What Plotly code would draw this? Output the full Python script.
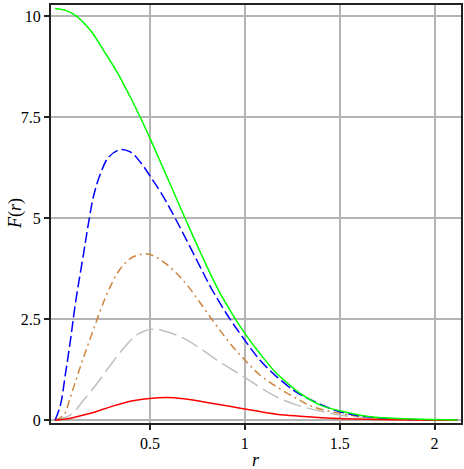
import plotly.graph_objects as go

# ---- data ----
r_green = [0, 0.05, 0.107, 0.186, 0.256, 0.326, 0.396, 0.449, 0.501, 0.685, 0.764, 0.861, 0.948, 1.0, 1.079, 1.167, 1.254, 1.29, 1.395, 1.50, 1.64, 1.78, 1.99, 2.12]
F_green = [10.19, 10.15, 10.02, 9.65, 9.15, 8.62, 8.0, 7.5, 6.97, 5.0, 4.17, 3.22, 2.52, 2.15, 1.65, 1.16, 0.80, 0.67, 0.38, 0.235, 0.10, 0.05, 0.02, 0.005]

r_blue = [0, 0.028, 0.055, 0.081, 0.107, 0.151, 0.177, 0.203, 0.239, 0.282, 0.344, 0.396, 0.449, 0.501, 0.571, 0.633, 0.747, 0.826, 0.922, 1.0, 1.079, 1.167, 1.254, 1.29, 1.50, 1.7, 1.9, 2.12]
F_blue = [0, 0.37, 1.16, 1.98, 2.89, 4.15, 4.9, 5.55, 6.10, 6.51, 6.70, 6.64, 6.39, 6.04, 5.53, 5.0, 3.96, 3.24, 2.50, 1.98, 1.49, 1.08, 0.75, 0.64, 0.21, 0.06, 0.015, 0.003]

r_orange = [0, 0.046, 0.081, 0.116, 0.151, 0.195, 0.239, 0.282, 0.344, 0.396, 0.456, 0.50, 0.571, 0.641, 0.703, 0.826, 0.922, 1.0, 1.079, 1.167, 1.272, 1.36, 1.50, 1.7, 1.9, 2.12]
F_orange = [0, 0.13, 0.58, 1.08, 1.57, 2.15, 2.72, 3.22, 3.75, 4.0, 4.11, 4.10, 3.92, 3.63, 3.30, 2.50, 1.90, 1.49, 1.12, 0.83, 0.54, 0.33, 0.17, 0.05, 0.012, 0.002]

r_gray = [0, 0.081, 0.151, 0.221, 0.291, 0.361, 0.431, 0.510, 0.589, 0.676, 0.764, 0.852, 1.0, 1.149, 1.272, 1.50, 1.7, 1.9, 2.12]
F_gray = [0, 0.13, 0.50, 0.91, 1.36, 1.78, 2.11, 2.25, 2.19, 2.03, 1.78, 1.49, 1.06, 0.62, 0.38, 0.13, 0.04, 0.01, 0.002]

r_red = [0, 0.081, 0.186, 0.291, 0.396, 0.50, 0.589, 0.676, 0.764, 1.0, 1.167, 1.29, 1.5, 1.8, 2.12]
F_red = [0, 0.05, 0.17, 0.33, 0.47, 0.54, 0.56, 0.53, 0.47, 0.28, 0.15, 0.10, 0.04, 0.01, 0.002]

x_ticks = [0.5, 1, 1.5, 2]
x_tick_labels = ["0.5", "1", "1.5", "2"]
y_ticks = [0, 2.5, 5, 7.5, 10]
y_tick_labels = ["0", "2.5", "5", "7.5", "10"]

FONT = "Liberation Serif"

fig = go.Figure()
series = [
    (r_gray, F_gray, "#C0C0C0", "18px,6px"),
    (r_orange, F_orange, "#CD853F", "8px,4px,2px,4px"),
    (r_blue, F_blue, "#0000FF", "11px,4px"),
    (r_red, F_red, "#FF0000", "solid"),
    (r_green, F_green, "#00FF00", "solid"),
]
for xs, ys, col, dash in series:
    fig.add_trace(go.Scatter(x=xs, y=ys, mode="lines",
                             line=dict(color=col, width=1.5, dash=dash, shape="spline", smoothing=1.0),
                             showlegend=False, hoverinfo="skip"))

axis_common = dict(
    showgrid=True, gridcolor="#B4B4B4", gridwidth=1.5,
    showline=True, linecolor="#222222", linewidth=2, mirror=True,
    ticks="outside", ticklen=5, tickwidth=1.5, tickcolor="#222222",
    zeroline=False, automargin=False,
    tickfont=dict(family=FONT, size=16, color="black"),
)
fig.update_xaxes(range=[-0.0215, 2.139], tickvals=x_ticks, ticktext=x_tick_labels, **axis_common)
fig.update_yaxes(range=[-0.069, 10.277], tickvals=y_ticks, ticktext=y_tick_labels, **axis_common)

fig.add_annotation(text="<i>r</i>", xref="paper", yref="paper", x=0.5, y=-0.0885,
                   xanchor="center", yanchor="middle", showarrow=False,
                   font=dict(family=FONT, size=18, color="black"))
fig.add_annotation(text="<i>F</i>(<i>r</i>)", xref="paper", yref="paper", x=-0.0878, y=0.5,
                   xanchor="center", yanchor="middle", textangle=-90, showarrow=False,
                   font=dict(family=FONT, size=18, color="black"))

fig.update_layout(
    width=464, height=469,
    margin=dict(l=51, r=3, t=5, b=46, autoexpand=False),
    paper_bgcolor="white", plot_bgcolor="white",
    font=dict(family=FONT, color="black"),
)
fig.write_html("out.html", config={"displayModeBar": False},
               post_script="document.body.style.margin='0';document.body.style.padding='0';document.body.style.overflow='hidden';")
